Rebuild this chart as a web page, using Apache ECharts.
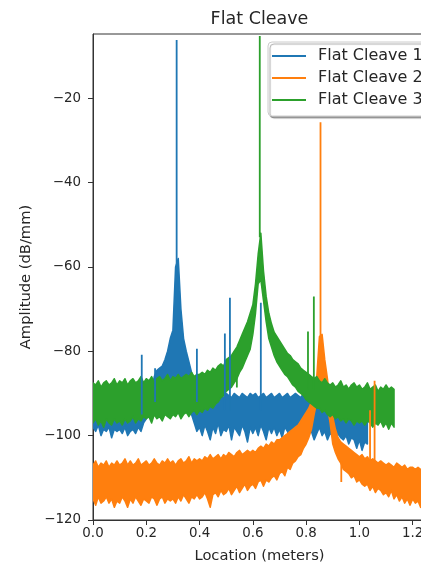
<!DOCTYPE html>
<html>
<head>
<meta charset="utf-8">
<title>Flat Cleave</title>
<script src="https://cdn.jsdelivr.net/npm/echarts@6.0.0/dist/echarts.min.js"></script>
<style>
  html, body { margin: 0; padding: 0; background: #fff; }
  #myChart { width: 421px; height: 568px; }
</style>
</head>
<body>
<div id="myChart"></div>
<script>
// band samples are STEP apart, starting at 0 m
var STEP = 0.01

var names = ['Flat Cleave 1', 'Flat Cleave 2', 'Flat Cleave 3']
var colors = ['#1f77b4', '#ff7f0e', '#2ca02c']
var xTicks = [0, 0.2, 0.4, 0.6, 0.8, 1.0, 1.2]
var yTicks = [-120, -100, -80, -60, -40, -20]

// Flat Cleave 1 : upper / lower edge of the noise band, 0.00 .. 1.03
var hi1 = [
  -90, -89, -90.5, -89.5, -90, -91, -89, -90, -89.5, -90.5,
  -90, -89, -90, -91, -89.5, -90, -89, -90.5, -89, -90,
  -89.5, -90, -89, -86, -84.5, -84, -83.5, -82, -80, -77,
  -75, -60, -58, -70, -77, -80, -82.5, -85, -87, -89,
  -90.5, -90, -91, -90.5, -90, -91, -90.5, -89.5, -90.5, -91,
  -90, -90.5, -91, -90, -90.5, -91, -90, -90.5, -91, -90,
  -90.5, -90, -91, -90.5, -90, -91, -90.5, -90, -91, -90.5,
  -90, -91, -90.5, -90, -91, -90.5, -90, -90.5, -91, -90,
  -90.5, -91, -90, -90.5, -91, -90.5, -90, -91, -90.5, -91,
  -91, -90.5, -91.5, -91, -90.5, -91.5, -91, -92, -91, -91.5,
  -92, -91.5, -92.5, -93
]
var lo1 = [
  -98, -99, -97.5, -100, -98.5, -99, -98, -100.5, -98.5, -99,
  -98.5, -99.5, -98, -100, -99, -98.5, -99.5, -98, -99, -97,
  -96, -95, -94, -94, -94, -93, -94, -93, -94, -93,
  -94, -93, -94, -93, -94, -93, -94, -95, -97, -99,
  -98, -100, -97.5, -99, -101, -98, -99.5, -97, -100, -98.5,
  -99, -97.5, -101, -98, -99, -100, -97.5, -99, -101.5, -98,
  -99.5, -98, -100, -97.5, -99, -101, -98, -99.5, -98, -100,
  -98.5, -100.5, -98, -99, -101, -98, -99.5, -100, -98, -99,
  -100, -98.5, -99, -101, -99.5, -98, -100, -99, -101, -99.5,
  -100, -101.5, -99.5, -100.5, -101, -100, -102, -100.5, -101, -103,
  -101, -103.5, -101.5, -102
]
// narrow spikes: [x, foot, tip]
var spikes1 = [
  [0.183, -95, -80.8], [0.233, -92, -84], [0.314, -62, -6.2], [0.39, -92, -79.4],
  [0.495, -94, -75.8], [0.514, -94, -67.3], [0.63, -94, -68.5]
]

// Flat Cleave 2 : 0.00 .. 1.25
var hi2 = [
  -107, -106, -107.5, -106.5, -107, -106, -107.5, -106.5, -107, -106,
  -107, -106.5, -105.5, -107, -106, -107, -106.5, -105.5, -107, -106.5,
  -106, -107, -106.5, -105.5, -106.5, -107, -106, -106.5, -105.5, -106.5,
  -106, -107, -106, -105.5, -106.5, -106, -105, -106.5, -105.5, -106,
  -105.5, -106, -105, -105.5, -104.5, -105.5, -105, -104.5, -105.5, -104.5,
  -105, -104, -104.5, -105, -104, -103.5, -104.5, -104, -103.5, -104,
  -103.5, -104, -103, -102.5, -103, -102, -102.5, -101.5, -102, -101,
  -101, -100.5, -100, -99.5, -99, -98.5, -98, -97.5, -96.5, -95.5,
  -94.5, -93.5, -92, -89, -86, -76.5, -76, -82, -86.5, -92,
  -95.5, -98.5, -100.5, -101.5, -102, -102.5, -103, -103.5, -104, -104.5,
  -105, -104.5, -105.5, -105, -106, -105.5, -106, -106.5, -106, -106.5,
  -107, -106.5, -107, -107.5, -106.5, -107, -107.5, -107, -108, -107.5,
  -107.5, -108, -107.5, -108, -108.5, -108
]
var lo2 = [
  -115, -116.5, -114.5, -116, -115.5, -114.5, -116, -115, -117, -115.5,
  -116, -114.5, -115.5, -117, -115, -116, -114.5, -115.5, -116.5, -115,
  -115.5, -116, -114.5, -115, -116.5, -115, -114.5, -116, -115, -115.5,
  -115, -116, -114.5, -115.5, -114, -115, -116, -114.5, -115, -114,
  -115, -114.5, -113.5, -115, -117, -114, -113.5, -114.5, -113, -114,
  -113.5, -112.5, -114, -113, -112, -113.5, -112.5, -111.5, -113, -112,
  -111.5, -112.5, -111, -110.5, -112, -110.5, -111, -110, -109.5, -110.5,
  -109, -108.5, -109.5, -107.5, -108, -106.5, -106, -105, -104.5, -103,
  -102, -100.5, -98.5, -95, -92, -88, -89, -91, -93, -97,
  -102, -104, -105.5, -106.5, -108, -108.5, -109, -110, -109.5, -111,
  -110.5, -111.5, -112, -111.5, -113, -112, -113.5, -112.5, -113, -114,
  -113.5, -114.5, -113, -115, -114, -115.5, -114.5, -116, -115, -116.5,
  -115, -116, -115.5, -117, -116, -116.5
]
var spikes2 = [
  [0.854, -80, -25.7], [0.932, -106, -111], [1.04, -106, -94], [1.057, -106, -87]
]

// Flat Cleave 3 : 0.00 .. 1.13
var hi3 = [
  -87.5, -88, -87, -88.5, -87.5, -87, -88, -87.5, -86.5, -88,
  -87, -87.5, -86.5, -88, -87, -86.5, -87.5, -87, -86, -87.5,
  -86.5, -87, -86, -87.5, -86.5, -86, -87, -86.5, -85.5, -87,
  -86, -86.5, -85.5, -86.5, -86, -85.5, -86, -85, -86, -85.5,
  -85.5, -85, -85.5, -84.5, -85, -84, -84.5, -83.5, -83, -83.5,
  -82, -81.5, -81, -80, -79, -77.5, -76, -74.5, -73, -71,
  -69, -64, -57, -52, -61, -67, -71, -73.5, -75.5, -76.5,
  -77.5, -78.5, -79.5, -80.5, -81, -82, -82.5, -83, -84, -84.5,
  -85, -85.5, -86, -86.5, -86, -87, -87.5, -86.5, -87.5, -88,
  -87.5, -88.5, -88, -87, -88.5, -88, -89, -88, -87.5, -88.5,
  -88, -89, -88.5, -87.5, -89, -88.5, -88, -89.5, -88.5, -89,
  -88, -89, -88.5, -89
]
var lo3 = [
  -97, -96, -97.5, -96.5, -98, -96, -97, -97.5, -96, -97,
  -96.5, -97.5, -96, -97, -96.5, -95.5, -97, -96, -96.5, -95.5,
  -96, -95.5, -97, -95, -96, -95.5, -96.5, -95, -95.5, -96,
  -95, -95.5, -94.5, -96, -95, -94.5, -95.5, -94.5, -94, -95,
  -94, -94.5, -93.5, -94, -93, -93.5, -92.5, -92, -91, -90.5,
  -89.5, -89, -88.5, -87.5, -86.5, -85, -84, -82.5, -81, -79.5,
  -76, -71, -64, -63, -68, -73, -77, -79, -81, -82.5,
  -83.5, -84.5, -85.5, -86, -87, -88, -88.5, -89.5, -90, -90.5,
  -91.5, -92, -92.5, -93, -93.5, -93.5, -94.5, -94, -95, -95.5,
  -95, -96, -95.5, -96.5, -96, -97, -96, -96.5, -97.5, -96.5,
  -97, -96.5, -97.5, -96.5, -97, -98, -97, -97.5, -96.5, -98,
  -97, -98.5, -97, -98
]
var spikes3 = [
  [0.54, -85, -88.6], [0.626, -53, -5.3], [0.807, -89, -75.3], [0.829, -89, -67]
]

var bands = [[hi1, lo1], [hi2, lo2], [hi3, lo3]]
var spikes = [spikes1, spikes2, spikes3]

function bandRenderer(hi, lo, color) {
  return function (params, api) {
    var n = Math.min(hi.length, lo.length)
    var pts = []
    for (var i = 0; i < n; i++) pts.push(api.coord([+(i * STEP).toFixed(3), hi[i]]))
    for (var j = n - 1; j >= 0; j--) pts.push(api.coord([+(j * STEP).toFixed(3), lo[j]]))
    return {
      type: 'polygon',
      shape: { points: pts },
      style: { fill: color, stroke: color, lineWidth: 1.5, lineJoin: 'round' }
    }
  }
}

function spikeData(list) {
  var out = []
  list.forEach(function (s) {
    out.push([s[0], s[1]], [s[0], s[2]], [s[0], s[1]], [s[0], '-'])
  })
  return out
}

var series = []
for (var k = 0; k < 3; k++) {
  series.push({
    name: 'band' + (k + 1),
    type: 'custom',
    clip: true,
    silent: true,
    renderItem: bandRenderer(bands[k][0], bands[k][1], colors[k]),
    data: [[0.5, -100]]
  })
  series.push({
    name: names[k],
    type: 'line',
    symbol: 'none',
    connectNulls: false,
    color: colors[k],
    lineStyle: { width: 1.8, color: colors[k] },
    data: spikeData(spikes[k])
  })
}

var minus = function (v) { return v < 0 ? '\u2212' + (-v) : String(v) }
var textCol = '#262626'
// thin bar used as the legend handle
var handle = 'path://M0,0H34V2H0Z'

var myChart = echarts.init(document.getElementById('myChart'))
myChart.setOption({
  animation: false,
  title: {
    text: 'Flat Cleave',
    left: 259.5,
    top: 10,
    padding: 0,
    textAlign: 'center',
    textStyle: { fontFamily: 'DejaVu Sans', fontSize: 17.5, fontWeight: 'normal', color: textCol }
  },
  legend: {
    data: names.map(function (n) { return { name: n, icon: handle } }),
    orient: 'vertical',
    left: 268,
    top: 42,
    itemWidth: 34,
    itemHeight: 14,
    itemGap: 6,
    padding: [6, 12, 8, 4],
    backgroundColor: '#fff',
    borderColor: '#cccccc',
    borderWidth: 1,
    borderRadius: 4,
    shadowColor: 'rgba(0,0,0,0.35)',
    shadowOffsetX: 2,
    shadowOffsetY: 2,
    shadowBlur: 1,
    textStyle: { fontFamily: 'DejaVu Sans', fontSize: 16, color: textCol, padding: [0, 0, 0, 7] }
  },
  grid: {
    left: 93,
    top: 34,
    width: 333,
    bottom: 48,
    outerBoundsMode: 'none',
    show: true,
    borderColor: '#333',
    borderWidth: 1
  },
  xAxis: {
    type: 'value',
    min: 0,
    max: 1.25,
    interval: 0.2,
    name: 'Location (meters)',
    nameLocation: 'middle',
    nameGap: 29,
    nameTextStyle: { fontFamily: 'DejaVu Sans', fontSize: 14.7, color: textCol },
    splitLine: { show: false },
    axisLine: { lineStyle: { color: '#333', width: 1 } },
    axisTick: { customValues: xTicks, length: 5, lineStyle: { color: '#333' } },
    axisLabel: {
      customValues: xTicks,
      margin: 7,
      fontFamily: 'DejaVu Sans',
      fontSize: 13.4,
      color: textCol,
      formatter: function (v) { return v.toFixed(1) }
    }
  },
  yAxis: {
    type: 'value',
    min: -120,
    max: -4.8,
    interval: 20,
    name: 'Amplitude (dB/mm)',
    nameLocation: 'middle',
    nameGap: 58,
    nameTextStyle: { fontFamily: 'DejaVu Sans', fontSize: 14.7, color: textCol },
    splitLine: { show: false },
    axisLine: { show: true, lineStyle: { color: '#333', width: 1 } },
    axisTick: { show: true, customValues: yTicks, length: 5, lineStyle: { color: '#333' } },
    axisLabel: {
      customValues: yTicks,
      margin: 12,
      fontFamily: 'DejaVu Sans',
      fontSize: 13.4,
      color: textCol,
      formatter: minus
    }
  },
  series: series
})
</script>
</body>
</html>
